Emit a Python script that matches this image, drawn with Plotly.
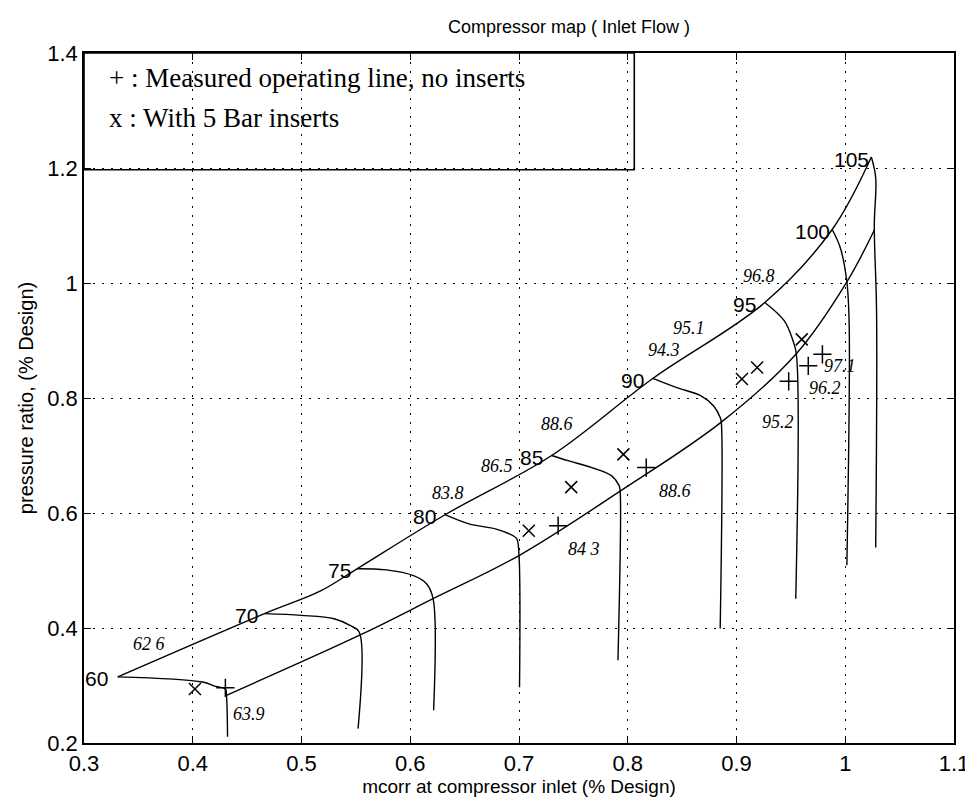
import plotly.graph_objects as go

# ---------------- data ----------------
surge_x = [0.331, 0.466, 0.518, 0.551, 0.632, 0.730, 0.823, 0.926, 0.988, 1.024]
surge_y = [0.315, 0.425, 0.465, 0.503, 0.597, 0.700, 0.834, 0.966, 1.093, 1.219]

choke_x = [0.431, 0.553, 0.621, 0.700, 0.793, 0.886, 0.955, 1.0015, 1.027]
choke_y = [0.283, 0.387, 0.451, 0.526, 0.638, 0.758, 0.877, 1.002, 1.093]

sp60_x = [0.331, 0.409, 0.421, 0.430, 0.431, 0.432]
sp60_y = [0.315, 0.306, 0.2985, 0.294, 0.283, 0.211]
sp70_x = [0.466, 0.500, 0.530, 0.545, 0.553, 0.552]
sp70_y = [0.425, 0.422, 0.416, 0.404, 0.393, 0.225]
sp75_x = [0.551, 0.578, 0.603, 0.615, 0.621, 0.6215]
sp75_y = [0.503, 0.501, 0.491, 0.477, 0.451, 0.257]
sp80_x = [0.632, 0.654, 0.679, 0.694, 0.698, 0.700, 0.7005]
sp80_y = [0.597, 0.581, 0.572, 0.561, 0.555, 0.526, 0.297]
sp85_x = [0.730, 0.745, 0.767, 0.785, 0.792, 0.793, 0.791]
sp85_y = [0.700, 0.691, 0.679, 0.665, 0.648, 0.638, 0.344]
sp90_x = [0.823, 0.845, 0.867, 0.879, 0.885, 0.886, 0.885]
sp90_y = [0.834, 0.818, 0.804, 0.786, 0.766, 0.758, 0.399]
sp95_x = [0.926, 0.944, 0.9515, 0.955, 0.9545]
sp95_y = [0.966, 0.934, 0.902, 0.877, 0.451]
sp100_x = [0.988, 0.9955, 1.0015, 1.0036, 1.0015]
sp100_y = [1.093, 1.061, 1.002, 0.928, 0.509]
sp105_x = [1.024, 1.028, 1.0267, 1.0288, 1.028]
sp105_y = [1.219, 1.183, 1.099, 0.950, 0.540]

plus_x = [0.430, 0.736, 0.817, 0.948, 0.966, 0.979]
plus_y = [0.296, 0.578, 0.679, 0.829, 0.856, 0.876]
cross_x = [0.402, 0.709, 0.748, 0.796, 0.905, 0.919, 0.960]
cross_y = [0.294, 0.569, 0.645, 0.702, 0.833, 0.853, 0.902]

speed_labels = ["60", "70", "75", "80", "85", "90", "95", "100", "105"]
speed_lab_x = [0.3115, 0.4495, 0.5345, 0.6133, 0.7119, 0.8044, 0.9075, 0.9697, 1.0061]
speed_lab_y = [0.312, 0.422, 0.500, 0.594, 0.697, 0.831, 0.963, 1.090, 1.215]

eff_labels = ["62 6", "63.9", "83.8", "86.5", "88.6", "84 3", "88.6", "94.3", "95.1",
              "96.8", "97.1", "96.2", "95.2"]
eff_lab_x = [0.360, 0.452, 0.6345, 0.680, 0.735, 0.760, 0.843, 0.833, 0.856,
             0.921, 0.9955, 0.981, 0.938]
eff_lab_y = [0.373, 0.251, 0.634, 0.682, 0.755, 0.538, 0.639, 0.883, 0.921,
             1.012, 0.855, 0.818, 0.758]

x_ticks = [0.3, 0.4, 0.5, 0.6, 0.7, 0.8, 0.9, 1.0, 1.1]
x_tick_text = ["0.3", "0.4", "0.5", "0.6", "0.7", "0.8", "0.9", "1", "1.1"]
y_ticks = [0.2, 0.4, 0.6, 0.8, 1.0, 1.2, 1.4]
y_tick_text = ["0.2", "0.4", "0.6", "0.8", "1", "1.2", "1.4"]

legend_lines = ["+ : Measured operating line, no inserts", "x : With 5 Bar inserts"]

# ---------------- figure ----------------
SANS = "Liberation Sans, Arial, Helvetica"
SERIF = "Liberation Serif, Times New Roman, Times"

fig = go.Figure()
line_style = dict(color="black", width=1.4)

for xs, ys in [(surge_x, surge_y), (choke_x, choke_y),
               (sp60_x, sp60_y), (sp70_x, sp70_y), (sp75_x, sp75_y),
               (sp80_x, sp80_y), (sp85_x, sp85_y), (sp90_x, sp90_y),
               (sp95_x, sp95_y), (sp100_x, sp100_y), (sp105_x, sp105_y)]:
    fig.add_trace(go.Scatter(x=xs, y=ys, mode="lines", line=line_style,
                             line_shape="spline", hoverinfo="skip", showlegend=False))

fig.add_trace(go.Scatter(x=plus_x, y=plus_y, mode="markers", showlegend=False,
                         marker=dict(symbol="cross-thin", size=13,
                                     line=dict(color="black", width=1.5))))
fig.add_trace(go.Scatter(x=cross_x, y=cross_y, mode="markers", showlegend=False,
                         marker=dict(symbol="x-thin", size=12,
                                     line=dict(color="black", width=1.5))))

for t, x, y in zip(speed_labels, speed_lab_x, speed_lab_y):
    fig.add_annotation(x=x, y=y, text=t, showarrow=False, xanchor="center", yanchor="middle",
                       font=dict(family=SANS, size=21, color="black"))

for t, x, y in zip(eff_labels, eff_lab_x, eff_lab_y):
    fig.add_annotation(x=x, y=y, text="<i>" + t + "</i>", showarrow=False,
                       xanchor="center", yanchor="middle",
                       font=dict(family=SERIF, size=18, color="black"))

# legend box
fig.add_shape(type="rect", x0=0.3, x1=0.806, y0=1.197, y1=1.4, xref="x", yref="y",
              line=dict(color="black", width=1.6), fillcolor="rgba(0,0,0,0)")
fig.add_annotation(x=0.321, y=1.357, text=legend_lines[0], showarrow=False, xanchor="left",
                   yanchor="middle", font=dict(family=SERIF, size=27, color="black"))
fig.add_annotation(x=0.321, y=1.287, text=legend_lines[1], showarrow=False, xanchor="left",
                   yanchor="middle", font=dict(family=SERIF, size=27, color="black"))

# title
fig.add_annotation(x=0.558, y=1.0, yshift=14, xref="paper", yref="paper",
                   text="Compressor map ( Inlet Flow )", showarrow=False,
                   xanchor="center", yanchor="bottom",
                   font=dict(family=SANS, size=18, color="black"))

axis_common = dict(showline=True, linecolor="black", linewidth=1.6, mirror="ticks",
                   ticks="inside", ticklen=7, tickcolor="black", tickwidth=1.3,
                   showgrid=True, gridcolor="black", gridwidth=1, griddash="2px,7px",
                   zeroline=False,
                   tickfont=dict(family=SANS, size=22, color="black"))

fig.update_xaxes(range=[0.3, 1.1], tickvals=x_ticks, ticktext=x_tick_text,
                 title=dict(text="mcorr at compressor inlet (% Design)", standoff=4,
                            font=dict(family=SANS, size=19, color="black")),
                 **axis_common)
fig.update_yaxes(range=[0.2, 1.4], tickvals=y_ticks, ticktext=y_tick_text,
                 title=dict(text="pressure ratio, (% Design)", standoff=8,
                            font=dict(family=SANS, size=20, color="black")),
                 **axis_common)

fig.update_layout(width=973, height=803, margin=dict(l=76, r=20, t=45, b=68),
                  paper_bgcolor="white", plot_bgcolor="white", showlegend=False)

fig.write_html("out.html")
